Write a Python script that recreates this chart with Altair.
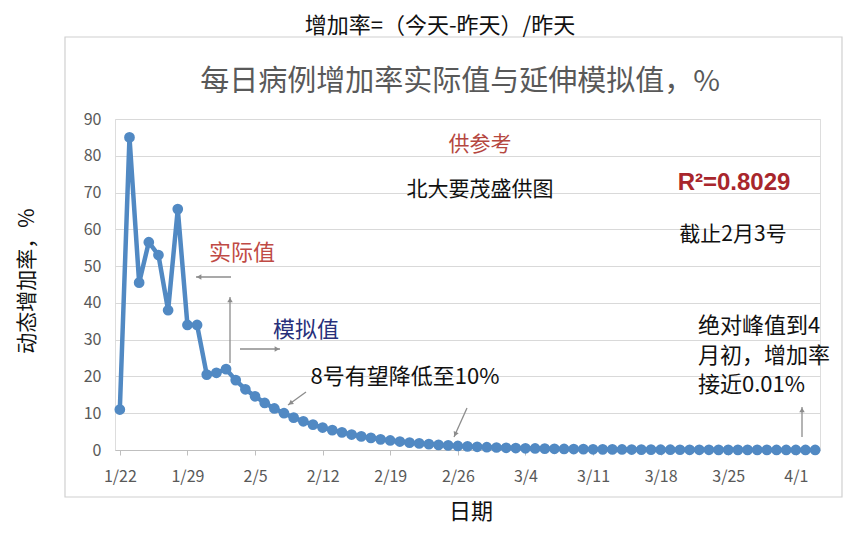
import altair as alt
import pandas as pd

# ---- data ----
actual = [11, 85, 45.5, 56.5, 53, 38, 65.5, 34, 34, 20.5, 21, 22, 19]  # 1/22 - 2/3
simulated = [16.5, 14.6, 12.8, 11.3, 10.0, 8.8, 7.8, 6.9, 6.1, 5.4, 4.8, 4.2, 3.7,
             3.3, 2.9, 2.6, 2.3, 2.0, 1.8, 1.6, 1.4, 1.25, 1.1, 0.98, 0.87, 0.77,  # 2/4 - 2/29
             0.68, 0.6, 0.53, 0.47, 0.42, 0.37, 0.33, 0.29, 0.26, 0.23, 0.2, 0.18,
             0.16, 0.14, 0.12, 0.11, 0.1, 0.09, 0.08, 0.07, 0.06, 0.055, 0.05, 0.045,
             0.04, 0.035, 0.03, 0.027, 0.024, 0.021, 0.018,  # March
             0.016, 0.013, 0.011]  # 4/1 - 4/3
tick_labels = ["1/22", "1/29", "2/5", "2/12", "2/19", "2/26", "3/4", "3/11", "3/18", "3/25", "4/1"]
y_ticks = [0, 10, 20, 30, 40, 50, 60, 70, 80, 90]

values = actual + simulated
df = pd.DataFrame({"day": list(range(len(values))), "rate": values})

W, H = 705, 331
FONT = "Noto Sans CJK SC"
LINE = "#5189c3"
GRID = "#d9d9d9"

label_js = "[" + ",".join("'%s'" % t for t in tick_labels) + "]"

x = alt.X("day:Q",
          scale=alt.Scale(domain=[-0.5, len(values) - 0.5], nice=False, zero=False),
          axis=alt.Axis(values=[i * 7 for i in range(len(tick_labels))],
                        labelExpr=label_js + "[round(datum.value/7)]",
                        grid=False, domainColor="#bfbfbf", tickColor="#bfbfbf", tickSize=5,
                        labelFont=FONT, labelFontSize=16, labelColor="#595959", labelPadding=13,
                        title="日期", titleFont=FONT, titleFontSize=22, titleFontWeight="normal",
                        titleColor="#111111", titleX=W / 2 + 3, titleY=61,
                        titleBaseline="middle", titleAnchor="middle"))
y = alt.Y("rate:Q",
          scale=alt.Scale(domain=[0, 90], nice=False),
          axis=alt.Axis(values=y_ticks, grid=True, gridColor=GRID, domain=False, ticks=False,
                        labelFont=FONT, labelFontSize=16, labelColor="#595959", labelPadding=14,
                        title="动态增加率，%", titleFont=FONT, titleFontSize=21,
                        titleFontWeight="normal", titleColor="#111111",
                        titleX=-88, titleY=H / 2 - 4, titleAngle=-90,
                        titleAlign="center", titleBaseline="middle"))

base = alt.Chart(df)
line = base.mark_line(color=LINE, strokeWidth=4.5).encode(x=x, y=y)
pts = base.mark_circle(color=LINE, size=115, opacity=1).encode(x=x, y=y)

one = pd.DataFrame({"k": [0]})

# outer chart-area frame
frame = alt.Chart(one).mark_rect(fill=None, stroke="#d0d0d0", strokeWidth=1.2, clip=False).encode(
    x=alt.value(-50), x2=alt.value(727), y=alt.value(-82), y2=alt.value(378))


def label(text, px, py, size=22, color="#111111", weight="normal", font=FONT, align="center",
          baseline="middle", lineHeight=None):
    kw = dict(text=text, fontSize=size, color=color, fontWeight=weight, font=font,
              align=align, baseline=baseline)
    if lineHeight is not None:
        kw["lineHeight"] = lineHeight
        kw["lineBreak"] = "\n"
    return alt.Chart(one).mark_text(**kw).encode(x=alt.value(px), y=alt.value(py))


texts = [
    label("增加率=（今天-昨天）/昨天", 325, -93, size=22),
    label("每日病例增加率实际值与延伸模拟值，%", 345, -37, size=29, color="#595959"),
    label("供参考", 365, 26, size=21, color="#b5473f"),
    label("北大要茂盛供图", 365, 71, size=21),
    label("R²=0.8029", 619, 64, size=24, color="#a8262c", weight="bold", font="Liberation Sans"),
    label("截止2月3号", 618, 116, size=21),
    label("实际值", 127, 134, size=22, color="#bf4a45"),
    label("模拟值", 191, 211, size=22, color="#28307a"),
    label("8号有望降低至10%", 290, 258, size=22),
    label("绝对峰值到4\n月初，增加率\n接近0.01%", 583, 197, size=22, align="left",
          baseline="top", lineHeight=29.5),
]

# arrows: (x1, y1) -> (x2, y2) tip, with head angle
arrows = [
    (116, 158, 81, 158, 270),
    (115, 244, 115, 178, 0),
    (125, 230, 165, 230, 90),
    (191, 273, 173, 286, 234),
    (352, 289, 339, 318, 204),
    (687, 318, 687, 288, 0),
]
arrow_layers = []
for (x1, y1, x2, y2, ang) in arrows:
    arrow_layers.append(alt.Chart(one).mark_rule(color="#8c8c8c", strokeWidth=1.3).encode(
        x=alt.value(x1), y=alt.value(y1), x2=alt.value(x2), y2=alt.value(y2)))
    dx, dy = x2 - x1, y2 - y1
    n = (dx * dx + dy * dy) ** 0.5
    hx, hy = x2 - 3 * dx / n, y2 - 3 * dy / n
    arrow_layers.append(alt.Chart(one).mark_point(shape="triangle-up", filled=True, size=30,
                                                  color="#8c8c8c", opacity=1, angle=ang).encode(
        x=alt.value(hx), y=alt.value(hy)))

chart = alt.layer(frame, line, pts, *texts, *arrow_layers).properties(
    width=W, height=H,
    autosize=alt.AutoSizeParams(type="none"),
    padding={"left": 107, "top": 111, "right": 32, "bottom": 80},
).configure_view(stroke=None).configure(background="white")

chart.save("out.html", embed_options={"renderer": "svg", "actions": False})
